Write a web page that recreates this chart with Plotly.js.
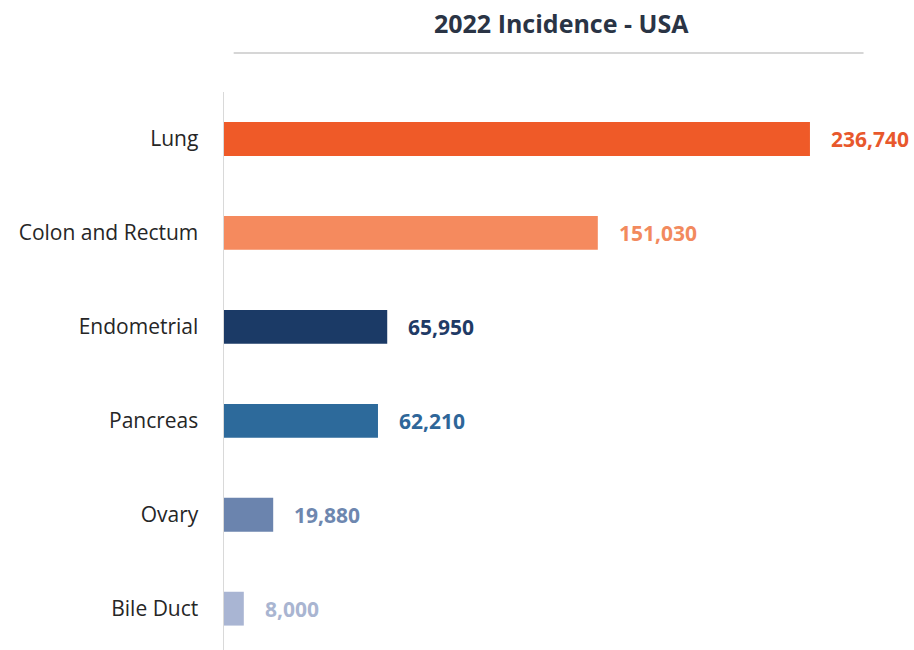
<!DOCTYPE html>
<html>
<head>
<meta charset="utf-8">
<script src="https://cdn.plot.ly/plotly-3.0.1.min.js"></script>
<style>html,body{margin:0;padding:0;background:#fff;}#chart{width:914px;height:650px;}</style>
</head>
<body>
<div id="chart"></div>
<script>
const categories = ["Lung", "Colon and Rectum", "Endometrial", "Pancreas", "Ovary", "Bile Duct"];
const incidence = [236740, 151030, 65950, 62210, 19880, 8000];
const valueLabels = ["236,740", "151,030", "65,950", "62,210", "19,880", "8,000"];
const barColors = ["#EF5A28", "#F58A5E", "#1B3A66", "#2D6A9B", "#6B84AE", "#A9B5D3"];
const labelColors = ["#E8582C", "#F28A5E", "#1F3B66", "#2E6699", "#6E87AF", "#A9B5D1"];

const trace = {
  type: "bar",
  orientation: "h",
  x: incidence,
  y: categories,
  marker: {color: barColors},
  hoverinfo: "skip"
};

const annotations = categories.map((c, i) => ({
  x: incidence[i], y: c, xref: "x", yref: "y",
  text: "<b>" + valueLabels[i] + "</b>",
  showarrow: false, xanchor: "left", xshift: 19,
  font: {family: "Open Sans, sans-serif", size: 21, color: labelColors[i]}
}));

const layout = {
  width: 914, height: 650,
  margin: {l: 224, r: 44, t: 92, b: 0},
  paper_bgcolor: "#ffffff", plot_bgcolor: "#ffffff",
  showlegend: false,
  bargap: 0.64,
  title: {
    text: "<b>2022 Incidence - USA</b>",
    x: 0.614, xanchor: "center", y: 0.963, yanchor: "middle",
    font: {family: "Open Sans, sans-serif", size: 25, color: "#2A3445"}
  },
  xaxis: {range: [0, 261000], autorange: false, visible: false, fixedrange: true},
  yaxis: {
    type: "category", range: [5.44, -0.5], autorange: false,
    showline: true, linecolor: "#D9D9D9", linewidth: 1.5,
    ticks: "", ticklabelstandoff: 20,
    showgrid: false, zeroline: false,
    tickfont: {family: "Open Sans, sans-serif", size: 21, color: "#262626"},
    fixedrange: true
  },
  shapes: [{
    type: "line", xref: "paper", yref: "paper",
    x0: 0.015, x1: 0.99, y0: 1.07, y1: 1.07,
    line: {color: "#C8C8C8", width: 1.5}
  }],
  annotations: annotations
};

Plotly.newPlot("chart", [trace], layout, {displayModeBar: false, staticPlot: true});
</script>
</body>
</html>
